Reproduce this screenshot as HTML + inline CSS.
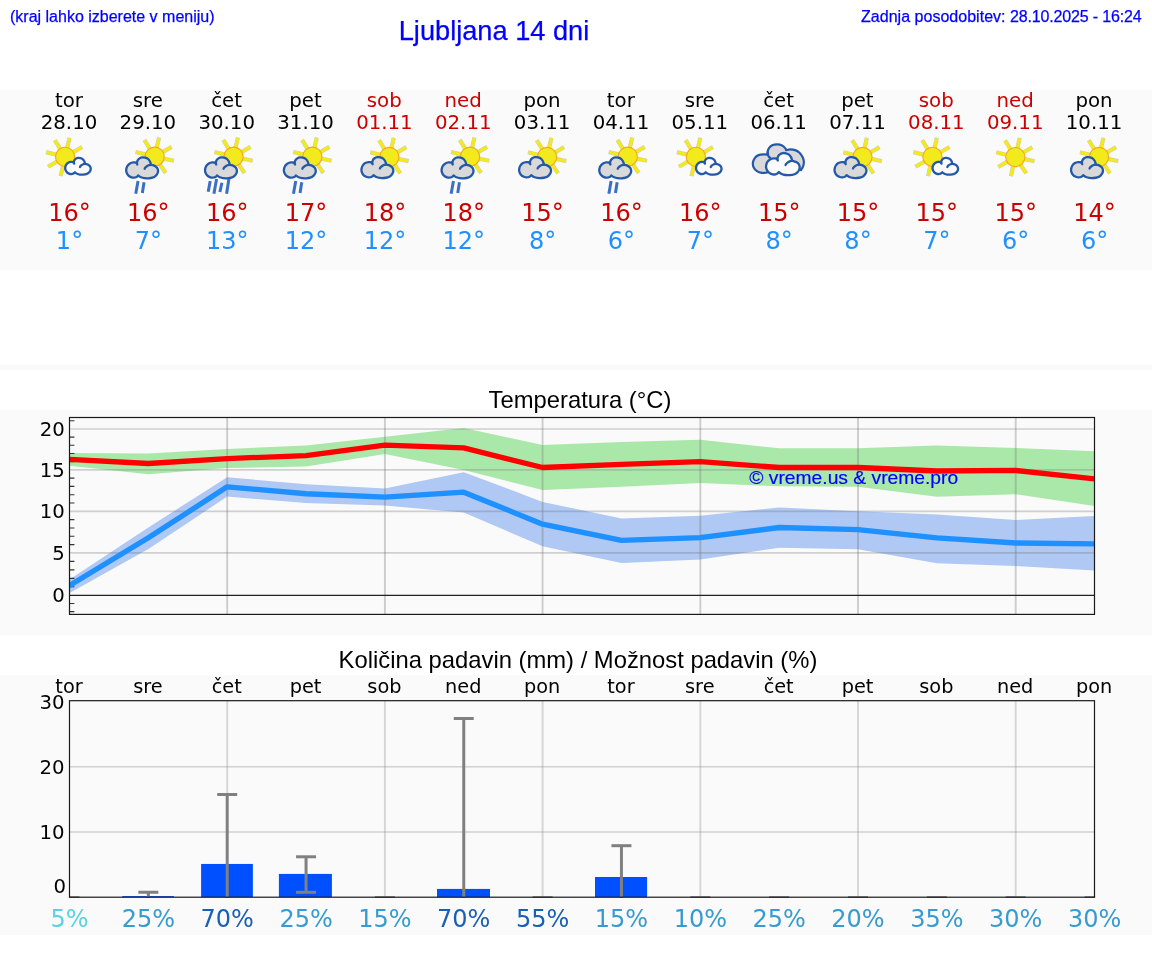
<!DOCTYPE html>
<html lang="sl"><head><meta charset="utf-8"><title>Ljubljana 14 dni</title>
<style>
html,body{margin:0;padding:0;background:#fff;}
body{width:1152px;height:975px;position:relative;overflow:hidden;font-family:"Liberation Sans",Arial,sans-serif;}
.panel{position:absolute;left:0;width:1152px;background:#fafafa;}
.hdr,#title{-webkit-text-stroke:0.25px #0000ff;}
.hdr{position:absolute;color:#0000ff;font-size:16px;line-height:18px;white-space:nowrap;}
#title{position:absolute;left:0;width:988px;text-align:center;top:14.6px;font-size:27.2px;line-height:32px;color:#0000ff;white-space:nowrap;}
.ct{position:absolute;left:0;width:1160px;text-align:center;font-size:23.8px;line-height:28px;color:#000;white-space:nowrap;}
svg{position:absolute;left:0;top:0;}
.hdr,#title,.ct,svg{will-change:transform;}
svg text{font-family:"DejaVu Sans","Liberation Sans",sans-serif;}
.d{font-size:19.75px;text-anchor:middle;}
.d2{font-size:19.3px;text-anchor:middle;}
.t{font-size:24px;text-anchor:middle;}
.p{font-size:24px;text-anchor:middle;}
.yl{font-size:19.7px;text-anchor:end;}
</style></head><body>
<div class="panel" style="top:90px;height:180px"></div>
<div class="panel" style="top:365px;height:5px"></div>
<div class="panel" style="top:410px;height:225px"></div>
<div class="panel" style="top:675px;height:260px"></div>
<div class="hdr" style="left:10px;top:8px">(kraj lahko izberete v meniju)</div>
<div id="title">Ljubljana 14 dni</div>
<div class="hdr" style="left:860.6px;top:8px"><span style="letter-spacing:0.025px">Zadnja posodobitev:</span><span style="letter-spacing:-0.145px"> 28.10.2025 - 16:24</span></div>
<div class="ct" style="top:386px">Temperatura (°C)</div>
<div class="ct" style="top:646px;width:1156px">Količina padavin (mm) / Možnost padavin (%)</div>

<svg width="1152" height="975" viewBox="0 0 1152 975">
<text class="d" x="68.9" y="107.4" fill="#000">tor</text>
<text class="d" x="69" y="128.8" fill="#000">28.10</text>
<g><line x1="67.03" y1="148.52" x2="69.53" y2="137.7" stroke="#9a9a78" stroke-opacity="0.45" stroke-width="4.2"/><line x1="72.55" y1="152.6" x2="82.16" y2="147.05" stroke="#9a9a78" stroke-opacity="0.45" stroke-width="4.2"/><line x1="73.51" y1="158.69" x2="84.37" y2="161" stroke="#9a9a78" stroke-opacity="0.45" stroke-width="4.2"/><line x1="69.91" y1="164.03" x2="76.12" y2="173.23" stroke="#9a9a78" stroke-opacity="0.45" stroke-width="4.2"/><line x1="63.17" y1="165.28" x2="60.67" y2="176.1" stroke="#9a9a78" stroke-opacity="0.45" stroke-width="4.2"/><line x1="57.65" y1="161.2" x2="48.04" y2="166.75" stroke="#9a9a78" stroke-opacity="0.45" stroke-width="4.2"/><line x1="56.76" y1="154.82" x2="45.99" y2="152.13" stroke="#9a9a78" stroke-opacity="0.45" stroke-width="4.2"/><line x1="60.61" y1="149.57" x2="54.81" y2="140.1" stroke="#9a9a78" stroke-opacity="0.45" stroke-width="4.2"/><line x1="67.03" y1="148.52" x2="69.44" y2="138.09" stroke="#f2ea1c" stroke-width="3.3"/><line x1="72.55" y1="152.6" x2="81.81" y2="147.25" stroke="#f2ea1c" stroke-width="3.3"/><line x1="73.51" y1="158.69" x2="83.98" y2="160.91" stroke="#f2ea1c" stroke-width="3.3"/><line x1="69.91" y1="164.03" x2="75.89" y2="172.9" stroke="#f2ea1c" stroke-width="3.3"/><line x1="63.17" y1="165.28" x2="60.76" y2="175.71" stroke="#f2ea1c" stroke-width="3.3"/><line x1="57.65" y1="161.2" x2="48.39" y2="166.55" stroke="#f2ea1c" stroke-width="3.3"/><line x1="56.76" y1="154.82" x2="46.37" y2="152.23" stroke="#f2ea1c" stroke-width="3.3"/><line x1="60.61" y1="149.57" x2="55.02" y2="140.44" stroke="#f2ea1c" stroke-width="3.3"/><circle cx="65.1" cy="156.9" r="9.6" fill="#f2ea1c" stroke="#f7a621" stroke-width="1.1"/></g><path d="M73.74 162.68C73.83 162.31 73.98 161.08 74.3 160.44C74.62 159.8 75.06 159.26 75.66 158.84C76.26 158.42 77.11 158.05 77.9 157.92C78.69 157.79 79.59 157.85 80.38 158.04C81.17 158.23 81.99 158.59 82.62 159.08C83.25 159.57 83.77 160.35 84.14 161C84.51 161.65 84.71 162.53 84.86 163C85.01 163.47 84.99 163.67 85.02 163.8L84.86 163.8C85.14 163.85 85.94 163.93 86.54 164.12C87.14 164.31 87.89 164.56 88.46 164.92C89.03 165.28 89.61 165.72 89.98 166.28C90.35 166.84 90.63 167.59 90.7 168.28C90.77 168.97 90.7 169.71 90.38 170.44C90.06 171.17 89.47 172.07 88.78 172.68C88.09 173.29 87.15 173.8 86.22 174.12C85.29 174.44 84.25 174.53 83.18 174.6C82.11 174.67 80.83 174.65 79.82 174.52C78.81 174.39 77.93 174.17 77.1 173.8C76.27 173.43 75.23 172.53 74.86 172.28L74.86 172.28C74.63 172.49 74.1 173.25 73.5 173.56C72.9 173.87 72.01 174.11 71.26 174.12C70.51 174.13 69.77 173.97 69.02 173.64C68.27 173.31 67.38 172.79 66.78 172.12C66.18 171.45 65.67 170.43 65.42 169.64C65.17 168.85 65.13 168.24 65.26 167.4C65.39 166.56 65.73 165.39 66.22 164.6C66.71 163.81 67.43 163.13 68.22 162.68C69.01 162.23 70.09 161.97 70.94 161.88C71.79 161.79 72.87 161.99 73.34 162.12C73.81 162.25 73.67 162.59 73.74 162.68Z" fill="#fbfbfb" stroke="#2458a8" stroke-width="2.3" stroke-linejoin="round"/><path d="M84.86 163.8C84.58 163.87 83.74 163.97 83.18 164.2C82.62 164.43 81.97 164.83 81.5 165.16C81.03 165.49 80.63 165.89 80.38 166.2C80.13 166.51 80.05 166.87 79.98 167M73.34 162.12C73.43 162.25 73.77 162.68 73.9 162.92C74.03 163.16 74.1 163.45 74.14 163.56" fill="none" stroke="#2458a8" stroke-width="2.3" stroke-linecap="round"/>
<text class="t" transform="translate(69.5 221) scale(1.0 1)" fill="#cc0000">16°</text>
<text class="t" transform="translate(69.5 249) scale(1.0 1)" fill="#1e90ff">1°</text>
<text class="d" x="147.75" y="107.4" fill="#000">sre</text>
<text class="d" x="147.85" y="128.8" fill="#000">29.10</text>
<g><line x1="156.58" y1="148.32" x2="159.08" y2="137.5" stroke="#9a9a78" stroke-opacity="0.45" stroke-width="4.2"/><line x1="162.1" y1="152.4" x2="171.71" y2="146.85" stroke="#9a9a78" stroke-opacity="0.45" stroke-width="4.2"/><line x1="163.06" y1="158.49" x2="173.92" y2="160.8" stroke="#9a9a78" stroke-opacity="0.45" stroke-width="4.2"/><line x1="159.46" y1="163.83" x2="165.67" y2="173.03" stroke="#9a9a78" stroke-opacity="0.45" stroke-width="4.2"/><line x1="152.72" y1="165.08" x2="150.22" y2="175.9" stroke="#9a9a78" stroke-opacity="0.45" stroke-width="4.2"/><line x1="147.2" y1="161" x2="137.59" y2="166.55" stroke="#9a9a78" stroke-opacity="0.45" stroke-width="4.2"/><line x1="146.31" y1="154.62" x2="135.54" y2="151.93" stroke="#9a9a78" stroke-opacity="0.45" stroke-width="4.2"/><line x1="150.16" y1="149.37" x2="144.36" y2="139.9" stroke="#9a9a78" stroke-opacity="0.45" stroke-width="4.2"/><line x1="156.58" y1="148.32" x2="158.99" y2="137.89" stroke="#f2ea1c" stroke-width="3.3"/><line x1="162.1" y1="152.4" x2="171.36" y2="147.05" stroke="#f2ea1c" stroke-width="3.3"/><line x1="163.06" y1="158.49" x2="173.53" y2="160.71" stroke="#f2ea1c" stroke-width="3.3"/><line x1="159.46" y1="163.83" x2="165.44" y2="172.7" stroke="#f2ea1c" stroke-width="3.3"/><line x1="152.72" y1="165.08" x2="150.31" y2="175.51" stroke="#f2ea1c" stroke-width="3.3"/><line x1="147.2" y1="161" x2="137.94" y2="166.35" stroke="#f2ea1c" stroke-width="3.3"/><line x1="146.31" y1="154.62" x2="135.92" y2="152.03" stroke="#f2ea1c" stroke-width="3.3"/><line x1="150.16" y1="149.37" x2="144.57" y2="140.24" stroke="#f2ea1c" stroke-width="3.3"/><circle cx="154.65" cy="156.7" r="9.6" fill="#f2ea1c" stroke="#f7a621" stroke-width="1.1"/></g><line x1="138.05" y1="181" x2="135.75" y2="193.7" stroke="#3b6fc4" stroke-width="3"/><line x1="144.05" y1="182.3" x2="142.35" y2="193" stroke="#3b6fc4" stroke-width="3"/><path d="M136.85 163.4C136.97 162.93 137.15 161.4 137.55 160.6C137.95 159.8 138.5 159.13 139.25 158.6C140 158.08 141.07 157.62 142.05 157.45C143.03 157.28 144.17 157.36 145.15 157.6C146.13 157.84 147.17 158.28 147.95 158.9C148.73 159.52 149.38 160.48 149.85 161.3C150.32 162.12 150.57 163.22 150.75 163.8C150.93 164.38 150.92 164.63 150.95 164.8L150.75 164.8C151.1 164.87 152.1 164.97 152.85 165.2C153.6 165.43 154.53 165.75 155.25 166.2C155.97 166.65 156.68 167.2 157.15 167.9C157.62 168.6 157.97 169.53 158.05 170.4C158.13 171.27 158.05 172.18 157.65 173.1C157.25 174.02 156.52 175.13 155.65 175.9C154.78 176.67 153.62 177.3 152.45 177.7C151.28 178.1 149.98 178.22 148.65 178.3C147.32 178.38 145.72 178.37 144.45 178.2C143.18 178.03 142.08 177.77 141.05 177.3C140.02 176.83 138.72 175.72 138.25 175.4L138.25 175.4C137.97 175.67 137.3 176.62 136.55 177C135.8 177.38 134.68 177.68 133.75 177.7C132.82 177.72 131.88 177.52 130.95 177.1C130.02 176.68 128.9 176.03 128.15 175.2C127.4 174.37 126.77 173.08 126.45 172.1C126.13 171.12 126.08 170.35 126.25 169.3C126.42 168.25 126.83 166.78 127.45 165.8C128.07 164.82 128.97 163.97 129.95 163.4C130.93 162.83 132.28 162.52 133.35 162.4C134.42 162.28 135.77 162.53 136.35 162.7C136.93 162.87 136.77 163.28 136.85 163.4Z" fill="#d9d9d9" stroke="#2458a8" stroke-width="2.3" stroke-linejoin="round"/><path d="M150.75 164.8C150.4 164.88 149.35 165.02 148.65 165.3C147.95 165.58 147.13 166.08 146.55 166.5C145.97 166.92 145.47 167.42 145.15 167.8C144.83 168.18 144.73 168.63 144.65 168.8M136.35 162.7C136.47 162.87 136.88 163.4 137.05 163.7C137.22 164 137.3 164.37 137.35 164.5" fill="none" stroke="#2458a8" stroke-width="2.3" stroke-linecap="round"/>
<text class="t" transform="translate(148.35 221) scale(1.0 1)" fill="#cc0000">16°</text>
<text class="t" transform="translate(148.35 249) scale(1.0 1)" fill="#1e90ff">7°</text>
<text class="d" x="226.6" y="107.4" fill="#000">čet</text>
<text class="d" x="226.7" y="128.8" fill="#000">30.10</text>
<g><line x1="235.43" y1="148.32" x2="237.93" y2="137.5" stroke="#9a9a78" stroke-opacity="0.45" stroke-width="4.2"/><line x1="240.95" y1="152.4" x2="250.56" y2="146.85" stroke="#9a9a78" stroke-opacity="0.45" stroke-width="4.2"/><line x1="241.91" y1="158.49" x2="252.77" y2="160.8" stroke="#9a9a78" stroke-opacity="0.45" stroke-width="4.2"/><line x1="238.31" y1="163.83" x2="244.52" y2="173.03" stroke="#9a9a78" stroke-opacity="0.45" stroke-width="4.2"/><line x1="231.57" y1="165.08" x2="229.07" y2="175.9" stroke="#9a9a78" stroke-opacity="0.45" stroke-width="4.2"/><line x1="226.05" y1="161" x2="216.44" y2="166.55" stroke="#9a9a78" stroke-opacity="0.45" stroke-width="4.2"/><line x1="225.16" y1="154.62" x2="214.39" y2="151.93" stroke="#9a9a78" stroke-opacity="0.45" stroke-width="4.2"/><line x1="229.01" y1="149.37" x2="223.21" y2="139.9" stroke="#9a9a78" stroke-opacity="0.45" stroke-width="4.2"/><line x1="235.43" y1="148.32" x2="237.84" y2="137.89" stroke="#f2ea1c" stroke-width="3.3"/><line x1="240.95" y1="152.4" x2="250.21" y2="147.05" stroke="#f2ea1c" stroke-width="3.3"/><line x1="241.91" y1="158.49" x2="252.38" y2="160.71" stroke="#f2ea1c" stroke-width="3.3"/><line x1="238.31" y1="163.83" x2="244.29" y2="172.7" stroke="#f2ea1c" stroke-width="3.3"/><line x1="231.57" y1="165.08" x2="229.16" y2="175.51" stroke="#f2ea1c" stroke-width="3.3"/><line x1="226.05" y1="161" x2="216.79" y2="166.35" stroke="#f2ea1c" stroke-width="3.3"/><line x1="225.16" y1="154.62" x2="214.77" y2="152.03" stroke="#f2ea1c" stroke-width="3.3"/><line x1="229.01" y1="149.37" x2="223.42" y2="140.24" stroke="#f2ea1c" stroke-width="3.3"/><circle cx="233.5" cy="156.7" r="9.6" fill="#f2ea1c" stroke="#f7a621" stroke-width="1.1"/></g><line x1="210.2" y1="181" x2="208.2" y2="191.7" stroke="#3b6fc4" stroke-width="3"/><line x1="216.6" y1="179" x2="213.9" y2="193.7" stroke="#3b6fc4" stroke-width="3"/><line x1="221.9" y1="182.7" x2="219.9" y2="192" stroke="#3b6fc4" stroke-width="3"/><line x1="228.9" y1="179" x2="226.6" y2="193.7" stroke="#3b6fc4" stroke-width="3"/><path d="M215.7 163.4C215.82 162.93 216 161.4 216.4 160.6C216.8 159.8 217.35 159.13 218.1 158.6C218.85 158.08 219.92 157.62 220.9 157.45C221.88 157.28 223.02 157.36 224 157.6C224.98 157.84 226.02 158.28 226.8 158.9C227.58 159.52 228.23 160.48 228.7 161.3C229.17 162.12 229.42 163.22 229.6 163.8C229.78 164.38 229.77 164.63 229.8 164.8L229.6 164.8C229.95 164.87 230.95 164.97 231.7 165.2C232.45 165.43 233.38 165.75 234.1 166.2C234.82 166.65 235.53 167.2 236 167.9C236.47 168.6 236.82 169.53 236.9 170.4C236.98 171.27 236.9 172.18 236.5 173.1C236.1 174.02 235.37 175.13 234.5 175.9C233.63 176.67 232.47 177.3 231.3 177.7C230.13 178.1 228.83 178.22 227.5 178.3C226.17 178.38 224.57 178.37 223.3 178.2C222.03 178.03 220.93 177.77 219.9 177.3C218.87 176.83 217.57 175.72 217.1 175.4L217.1 175.4C216.82 175.67 216.15 176.62 215.4 177C214.65 177.38 213.53 177.68 212.6 177.7C211.67 177.72 210.73 177.52 209.8 177.1C208.87 176.68 207.75 176.03 207 175.2C206.25 174.37 205.62 173.08 205.3 172.1C204.98 171.12 204.93 170.35 205.1 169.3C205.27 168.25 205.68 166.78 206.3 165.8C206.92 164.82 207.82 163.97 208.8 163.4C209.78 162.83 211.13 162.52 212.2 162.4C213.27 162.28 214.62 162.53 215.2 162.7C215.78 162.87 215.62 163.28 215.7 163.4Z" fill="#d9d9d9" stroke="#2458a8" stroke-width="2.3" stroke-linejoin="round"/><path d="M229.6 164.8C229.25 164.88 228.2 165.02 227.5 165.3C226.8 165.58 225.98 166.08 225.4 166.5C224.82 166.92 224.32 167.42 224 167.8C223.68 168.18 223.58 168.63 223.5 168.8M215.2 162.7C215.32 162.87 215.73 163.4 215.9 163.7C216.07 164 216.15 164.37 216.2 164.5" fill="none" stroke="#2458a8" stroke-width="2.3" stroke-linecap="round"/>
<text class="t" transform="translate(227.2 221) scale(1.0 1)" fill="#cc0000">16°</text>
<text class="t" transform="translate(227.2 249) scale(1.0 1)" fill="#1e90ff">13°</text>
<text class="d" x="305.45" y="107.4" fill="#000">pet</text>
<text class="d" x="305.55" y="128.8" fill="#000">31.10</text>
<g><line x1="314.28" y1="148.32" x2="316.78" y2="137.5" stroke="#9a9a78" stroke-opacity="0.45" stroke-width="4.2"/><line x1="319.8" y1="152.4" x2="329.41" y2="146.85" stroke="#9a9a78" stroke-opacity="0.45" stroke-width="4.2"/><line x1="320.76" y1="158.49" x2="331.62" y2="160.8" stroke="#9a9a78" stroke-opacity="0.45" stroke-width="4.2"/><line x1="317.16" y1="163.83" x2="323.37" y2="173.03" stroke="#9a9a78" stroke-opacity="0.45" stroke-width="4.2"/><line x1="310.42" y1="165.08" x2="307.92" y2="175.9" stroke="#9a9a78" stroke-opacity="0.45" stroke-width="4.2"/><line x1="304.9" y1="161" x2="295.29" y2="166.55" stroke="#9a9a78" stroke-opacity="0.45" stroke-width="4.2"/><line x1="304.01" y1="154.62" x2="293.24" y2="151.93" stroke="#9a9a78" stroke-opacity="0.45" stroke-width="4.2"/><line x1="307.86" y1="149.37" x2="302.06" y2="139.9" stroke="#9a9a78" stroke-opacity="0.45" stroke-width="4.2"/><line x1="314.28" y1="148.32" x2="316.69" y2="137.89" stroke="#f2ea1c" stroke-width="3.3"/><line x1="319.8" y1="152.4" x2="329.06" y2="147.05" stroke="#f2ea1c" stroke-width="3.3"/><line x1="320.76" y1="158.49" x2="331.23" y2="160.71" stroke="#f2ea1c" stroke-width="3.3"/><line x1="317.16" y1="163.83" x2="323.14" y2="172.7" stroke="#f2ea1c" stroke-width="3.3"/><line x1="310.42" y1="165.08" x2="308.01" y2="175.51" stroke="#f2ea1c" stroke-width="3.3"/><line x1="304.9" y1="161" x2="295.64" y2="166.35" stroke="#f2ea1c" stroke-width="3.3"/><line x1="304.01" y1="154.62" x2="293.62" y2="152.03" stroke="#f2ea1c" stroke-width="3.3"/><line x1="307.86" y1="149.37" x2="302.27" y2="140.24" stroke="#f2ea1c" stroke-width="3.3"/><circle cx="312.35" cy="156.7" r="9.6" fill="#f2ea1c" stroke="#f7a621" stroke-width="1.1"/></g><line x1="295.75" y1="181" x2="293.45" y2="193.7" stroke="#3b6fc4" stroke-width="3"/><line x1="301.75" y1="182.3" x2="300.05" y2="193" stroke="#3b6fc4" stroke-width="3"/><path d="M294.55 163.4C294.67 162.93 294.85 161.4 295.25 160.6C295.65 159.8 296.2 159.13 296.95 158.6C297.7 158.08 298.77 157.62 299.75 157.45C300.73 157.28 301.87 157.36 302.85 157.6C303.83 157.84 304.87 158.28 305.65 158.9C306.43 159.52 307.08 160.48 307.55 161.3C308.02 162.12 308.27 163.22 308.45 163.8C308.63 164.38 308.62 164.63 308.65 164.8L308.45 164.8C308.8 164.87 309.8 164.97 310.55 165.2C311.3 165.43 312.23 165.75 312.95 166.2C313.67 166.65 314.38 167.2 314.85 167.9C315.32 168.6 315.67 169.53 315.75 170.4C315.83 171.27 315.75 172.18 315.35 173.1C314.95 174.02 314.22 175.13 313.35 175.9C312.48 176.67 311.32 177.3 310.15 177.7C308.98 178.1 307.68 178.22 306.35 178.3C305.02 178.38 303.42 178.37 302.15 178.2C300.88 178.03 299.78 177.77 298.75 177.3C297.72 176.83 296.42 175.72 295.95 175.4L295.95 175.4C295.67 175.67 295 176.62 294.25 177C293.5 177.38 292.38 177.68 291.45 177.7C290.52 177.72 289.58 177.52 288.65 177.1C287.72 176.68 286.6 176.03 285.85 175.2C285.1 174.37 284.47 173.08 284.15 172.1C283.83 171.12 283.78 170.35 283.95 169.3C284.12 168.25 284.53 166.78 285.15 165.8C285.77 164.82 286.67 163.97 287.65 163.4C288.63 162.83 289.98 162.52 291.05 162.4C292.12 162.28 293.47 162.53 294.05 162.7C294.63 162.87 294.47 163.28 294.55 163.4Z" fill="#d9d9d9" stroke="#2458a8" stroke-width="2.3" stroke-linejoin="round"/><path d="M308.45 164.8C308.1 164.88 307.05 165.02 306.35 165.3C305.65 165.58 304.83 166.08 304.25 166.5C303.67 166.92 303.17 167.42 302.85 167.8C302.53 168.18 302.43 168.63 302.35 168.8M294.05 162.7C294.17 162.87 294.58 163.4 294.75 163.7C294.92 164 295 164.37 295.05 164.5" fill="none" stroke="#2458a8" stroke-width="2.3" stroke-linecap="round"/>
<text class="t" transform="translate(306.05 221) scale(1.0 1)" fill="#cc0000">17°</text>
<text class="t" transform="translate(306.05 249) scale(1.0 1)" fill="#1e90ff">12°</text>
<text class="d" x="384.3" y="107.4" fill="#cc0000">sob</text>
<text class="d" x="384.4" y="128.8" fill="#cc0000">01.11</text>
<g><line x1="391.28" y1="148.62" x2="393.78" y2="137.8" stroke="#9a9a78" stroke-opacity="0.45" stroke-width="4.2"/><line x1="396.8" y1="152.7" x2="406.41" y2="147.15" stroke="#9a9a78" stroke-opacity="0.45" stroke-width="4.2"/><line x1="397.76" y1="158.79" x2="408.62" y2="161.1" stroke="#9a9a78" stroke-opacity="0.45" stroke-width="4.2"/><line x1="394.16" y1="164.13" x2="400.37" y2="173.33" stroke="#9a9a78" stroke-opacity="0.45" stroke-width="4.2"/><line x1="387.42" y1="165.38" x2="384.92" y2="176.2" stroke="#9a9a78" stroke-opacity="0.45" stroke-width="4.2"/><line x1="381.9" y1="161.3" x2="372.29" y2="166.85" stroke="#9a9a78" stroke-opacity="0.45" stroke-width="4.2"/><line x1="381.01" y1="154.92" x2="370.24" y2="152.23" stroke="#9a9a78" stroke-opacity="0.45" stroke-width="4.2"/><line x1="384.86" y1="149.67" x2="379.06" y2="140.2" stroke="#9a9a78" stroke-opacity="0.45" stroke-width="4.2"/><line x1="391.28" y1="148.62" x2="393.69" y2="138.19" stroke="#f2ea1c" stroke-width="3.3"/><line x1="396.8" y1="152.7" x2="406.06" y2="147.35" stroke="#f2ea1c" stroke-width="3.3"/><line x1="397.76" y1="158.79" x2="408.23" y2="161.01" stroke="#f2ea1c" stroke-width="3.3"/><line x1="394.16" y1="164.13" x2="400.14" y2="173" stroke="#f2ea1c" stroke-width="3.3"/><line x1="387.42" y1="165.38" x2="385.01" y2="175.81" stroke="#f2ea1c" stroke-width="3.3"/><line x1="381.9" y1="161.3" x2="372.64" y2="166.65" stroke="#f2ea1c" stroke-width="3.3"/><line x1="381.01" y1="154.92" x2="370.62" y2="152.33" stroke="#f2ea1c" stroke-width="3.3"/><line x1="384.86" y1="149.67" x2="379.27" y2="140.54" stroke="#f2ea1c" stroke-width="3.3"/><circle cx="389.35" cy="157" r="9.6" fill="#f2ea1c" stroke="#f7a621" stroke-width="1.1"/></g><path d="M372.1 163.1C372.22 162.63 372.4 161.1 372.8 160.3C373.2 159.5 373.75 158.83 374.5 158.3C375.25 157.78 376.32 157.32 377.3 157.15C378.28 156.98 379.42 157.06 380.4 157.3C381.38 157.54 382.42 157.98 383.2 158.6C383.98 159.22 384.63 160.18 385.1 161C385.57 161.82 385.82 162.92 386 163.5C386.18 164.08 386.17 164.33 386.2 164.5L386 164.5C386.35 164.57 387.35 164.67 388.1 164.9C388.85 165.13 389.78 165.45 390.5 165.9C391.22 166.35 391.93 166.9 392.4 167.6C392.87 168.3 393.22 169.23 393.3 170.1C393.38 170.97 393.3 171.88 392.9 172.8C392.5 173.72 391.77 174.83 390.9 175.6C390.03 176.37 388.87 177 387.7 177.4C386.53 177.8 385.23 177.92 383.9 178C382.57 178.08 380.97 178.07 379.7 177.9C378.43 177.73 377.33 177.47 376.3 177C375.27 176.53 373.97 175.42 373.5 175.1L373.5 175.1C373.22 175.37 372.55 176.32 371.8 176.7C371.05 177.08 369.93 177.38 369 177.4C368.07 177.42 367.13 177.22 366.2 176.8C365.27 176.38 364.15 175.73 363.4 174.9C362.65 174.07 362.02 172.78 361.7 171.8C361.38 170.82 361.33 170.05 361.5 169C361.67 167.95 362.08 166.48 362.7 165.5C363.32 164.52 364.22 163.67 365.2 163.1C366.18 162.53 367.53 162.22 368.6 162.1C369.67 161.98 371.02 162.23 371.6 162.4C372.18 162.57 372.02 162.98 372.1 163.1Z" fill="#d9d9d9" stroke="#2458a8" stroke-width="2.3" stroke-linejoin="round"/><path d="M386 164.5C385.65 164.58 384.6 164.72 383.9 165C383.2 165.28 382.38 165.78 381.8 166.2C381.22 166.62 380.72 167.12 380.4 167.5C380.08 167.88 379.98 168.33 379.9 168.5M371.6 162.4C371.72 162.57 372.13 163.1 372.3 163.4C372.47 163.7 372.55 164.07 372.6 164.2" fill="none" stroke="#2458a8" stroke-width="2.3" stroke-linecap="round"/>
<text class="t" transform="translate(384.9 221) scale(1.0 1)" fill="#cc0000">18°</text>
<text class="t" transform="translate(384.9 249) scale(1.0 1)" fill="#1e90ff">12°</text>
<text class="d" x="463.15" y="107.4" fill="#cc0000">ned</text>
<text class="d" x="463.25" y="128.8" fill="#cc0000">02.11</text>
<g><line x1="471.98" y1="148.32" x2="474.48" y2="137.5" stroke="#9a9a78" stroke-opacity="0.45" stroke-width="4.2"/><line x1="477.5" y1="152.4" x2="487.11" y2="146.85" stroke="#9a9a78" stroke-opacity="0.45" stroke-width="4.2"/><line x1="478.46" y1="158.49" x2="489.32" y2="160.8" stroke="#9a9a78" stroke-opacity="0.45" stroke-width="4.2"/><line x1="474.86" y1="163.83" x2="481.07" y2="173.03" stroke="#9a9a78" stroke-opacity="0.45" stroke-width="4.2"/><line x1="468.12" y1="165.08" x2="465.62" y2="175.9" stroke="#9a9a78" stroke-opacity="0.45" stroke-width="4.2"/><line x1="462.6" y1="161" x2="452.99" y2="166.55" stroke="#9a9a78" stroke-opacity="0.45" stroke-width="4.2"/><line x1="461.71" y1="154.62" x2="450.94" y2="151.93" stroke="#9a9a78" stroke-opacity="0.45" stroke-width="4.2"/><line x1="465.56" y1="149.37" x2="459.76" y2="139.9" stroke="#9a9a78" stroke-opacity="0.45" stroke-width="4.2"/><line x1="471.98" y1="148.32" x2="474.39" y2="137.89" stroke="#f2ea1c" stroke-width="3.3"/><line x1="477.5" y1="152.4" x2="486.76" y2="147.05" stroke="#f2ea1c" stroke-width="3.3"/><line x1="478.46" y1="158.49" x2="488.93" y2="160.71" stroke="#f2ea1c" stroke-width="3.3"/><line x1="474.86" y1="163.83" x2="480.84" y2="172.7" stroke="#f2ea1c" stroke-width="3.3"/><line x1="468.12" y1="165.08" x2="465.71" y2="175.51" stroke="#f2ea1c" stroke-width="3.3"/><line x1="462.6" y1="161" x2="453.34" y2="166.35" stroke="#f2ea1c" stroke-width="3.3"/><line x1="461.71" y1="154.62" x2="451.32" y2="152.03" stroke="#f2ea1c" stroke-width="3.3"/><line x1="465.56" y1="149.37" x2="459.97" y2="140.24" stroke="#f2ea1c" stroke-width="3.3"/><circle cx="470.05" cy="156.7" r="9.6" fill="#f2ea1c" stroke="#f7a621" stroke-width="1.1"/></g><line x1="453.45" y1="181" x2="451.15" y2="193.7" stroke="#3b6fc4" stroke-width="3"/><line x1="459.45" y1="182.3" x2="457.75" y2="193" stroke="#3b6fc4" stroke-width="3"/><path d="M452.25 163.4C452.37 162.93 452.55 161.4 452.95 160.6C453.35 159.8 453.9 159.13 454.65 158.6C455.4 158.08 456.47 157.62 457.45 157.45C458.43 157.28 459.57 157.36 460.55 157.6C461.53 157.84 462.57 158.28 463.35 158.9C464.13 159.52 464.78 160.48 465.25 161.3C465.72 162.12 465.97 163.22 466.15 163.8C466.33 164.38 466.32 164.63 466.35 164.8L466.15 164.8C466.5 164.87 467.5 164.97 468.25 165.2C469 165.43 469.93 165.75 470.65 166.2C471.37 166.65 472.08 167.2 472.55 167.9C473.02 168.6 473.37 169.53 473.45 170.4C473.53 171.27 473.45 172.18 473.05 173.1C472.65 174.02 471.92 175.13 471.05 175.9C470.18 176.67 469.02 177.3 467.85 177.7C466.68 178.1 465.38 178.22 464.05 178.3C462.72 178.38 461.12 178.37 459.85 178.2C458.58 178.03 457.48 177.77 456.45 177.3C455.42 176.83 454.12 175.72 453.65 175.4L453.65 175.4C453.37 175.67 452.7 176.62 451.95 177C451.2 177.38 450.08 177.68 449.15 177.7C448.22 177.72 447.28 177.52 446.35 177.1C445.42 176.68 444.3 176.03 443.55 175.2C442.8 174.37 442.17 173.08 441.85 172.1C441.53 171.12 441.48 170.35 441.65 169.3C441.82 168.25 442.23 166.78 442.85 165.8C443.47 164.82 444.37 163.97 445.35 163.4C446.33 162.83 447.68 162.52 448.75 162.4C449.82 162.28 451.17 162.53 451.75 162.7C452.33 162.87 452.17 163.28 452.25 163.4Z" fill="#d9d9d9" stroke="#2458a8" stroke-width="2.3" stroke-linejoin="round"/><path d="M466.15 164.8C465.8 164.88 464.75 165.02 464.05 165.3C463.35 165.58 462.53 166.08 461.95 166.5C461.37 166.92 460.87 167.42 460.55 167.8C460.23 168.18 460.13 168.63 460.05 168.8M451.75 162.7C451.87 162.87 452.28 163.4 452.45 163.7C452.62 164 452.7 164.37 452.75 164.5" fill="none" stroke="#2458a8" stroke-width="2.3" stroke-linecap="round"/>
<text class="t" transform="translate(463.75 221) scale(1.0 1)" fill="#cc0000">18°</text>
<text class="t" transform="translate(463.75 249) scale(1.0 1)" fill="#1e90ff">12°</text>
<text class="d" x="542" y="107.4" fill="#000">pon</text>
<text class="d" x="542.1" y="128.8" fill="#000">03.11</text>
<g><line x1="548.98" y1="148.62" x2="551.48" y2="137.8" stroke="#9a9a78" stroke-opacity="0.45" stroke-width="4.2"/><line x1="554.5" y1="152.7" x2="564.11" y2="147.15" stroke="#9a9a78" stroke-opacity="0.45" stroke-width="4.2"/><line x1="555.46" y1="158.79" x2="566.32" y2="161.1" stroke="#9a9a78" stroke-opacity="0.45" stroke-width="4.2"/><line x1="551.86" y1="164.13" x2="558.07" y2="173.33" stroke="#9a9a78" stroke-opacity="0.45" stroke-width="4.2"/><line x1="545.12" y1="165.38" x2="542.62" y2="176.2" stroke="#9a9a78" stroke-opacity="0.45" stroke-width="4.2"/><line x1="539.6" y1="161.3" x2="529.99" y2="166.85" stroke="#9a9a78" stroke-opacity="0.45" stroke-width="4.2"/><line x1="538.71" y1="154.92" x2="527.94" y2="152.23" stroke="#9a9a78" stroke-opacity="0.45" stroke-width="4.2"/><line x1="542.56" y1="149.67" x2="536.76" y2="140.2" stroke="#9a9a78" stroke-opacity="0.45" stroke-width="4.2"/><line x1="548.98" y1="148.62" x2="551.39" y2="138.19" stroke="#f2ea1c" stroke-width="3.3"/><line x1="554.5" y1="152.7" x2="563.76" y2="147.35" stroke="#f2ea1c" stroke-width="3.3"/><line x1="555.46" y1="158.79" x2="565.93" y2="161.01" stroke="#f2ea1c" stroke-width="3.3"/><line x1="551.86" y1="164.13" x2="557.84" y2="173" stroke="#f2ea1c" stroke-width="3.3"/><line x1="545.12" y1="165.38" x2="542.71" y2="175.81" stroke="#f2ea1c" stroke-width="3.3"/><line x1="539.6" y1="161.3" x2="530.34" y2="166.65" stroke="#f2ea1c" stroke-width="3.3"/><line x1="538.71" y1="154.92" x2="528.32" y2="152.33" stroke="#f2ea1c" stroke-width="3.3"/><line x1="542.56" y1="149.67" x2="536.97" y2="140.54" stroke="#f2ea1c" stroke-width="3.3"/><circle cx="547.05" cy="157" r="9.6" fill="#f2ea1c" stroke="#f7a621" stroke-width="1.1"/></g><path d="M529.8 163.1C529.92 162.63 530.1 161.1 530.5 160.3C530.9 159.5 531.45 158.83 532.2 158.3C532.95 157.78 534.02 157.32 535 157.15C535.98 156.98 537.12 157.06 538.1 157.3C539.08 157.54 540.12 157.98 540.9 158.6C541.68 159.22 542.33 160.18 542.8 161C543.27 161.82 543.52 162.92 543.7 163.5C543.88 164.08 543.87 164.33 543.9 164.5L543.7 164.5C544.05 164.57 545.05 164.67 545.8 164.9C546.55 165.13 547.48 165.45 548.2 165.9C548.92 166.35 549.63 166.9 550.1 167.6C550.57 168.3 550.92 169.23 551 170.1C551.08 170.97 551 171.88 550.6 172.8C550.2 173.72 549.47 174.83 548.6 175.6C547.73 176.37 546.57 177 545.4 177.4C544.23 177.8 542.93 177.92 541.6 178C540.27 178.08 538.67 178.07 537.4 177.9C536.13 177.73 535.03 177.47 534 177C532.97 176.53 531.67 175.42 531.2 175.1L531.2 175.1C530.92 175.37 530.25 176.32 529.5 176.7C528.75 177.08 527.63 177.38 526.7 177.4C525.77 177.42 524.83 177.22 523.9 176.8C522.97 176.38 521.85 175.73 521.1 174.9C520.35 174.07 519.72 172.78 519.4 171.8C519.08 170.82 519.03 170.05 519.2 169C519.37 167.95 519.78 166.48 520.4 165.5C521.02 164.52 521.92 163.67 522.9 163.1C523.88 162.53 525.23 162.22 526.3 162.1C527.37 161.98 528.72 162.23 529.3 162.4C529.88 162.57 529.72 162.98 529.8 163.1Z" fill="#d9d9d9" stroke="#2458a8" stroke-width="2.3" stroke-linejoin="round"/><path d="M543.7 164.5C543.35 164.58 542.3 164.72 541.6 165C540.9 165.28 540.08 165.78 539.5 166.2C538.92 166.62 538.42 167.12 538.1 167.5C537.78 167.88 537.68 168.33 537.6 168.5M529.3 162.4C529.42 162.57 529.83 163.1 530 163.4C530.17 163.7 530.25 164.07 530.3 164.2" fill="none" stroke="#2458a8" stroke-width="2.3" stroke-linecap="round"/>
<text class="t" transform="translate(542.6 221) scale(1.0 1)" fill="#cc0000">15°</text>
<text class="t" transform="translate(542.6 249) scale(1.0 1)" fill="#1e90ff">8°</text>
<text class="d" x="620.85" y="107.4" fill="#000">tor</text>
<text class="d" x="620.95" y="128.8" fill="#000">04.11</text>
<g><line x1="629.68" y1="148.32" x2="632.18" y2="137.5" stroke="#9a9a78" stroke-opacity="0.45" stroke-width="4.2"/><line x1="635.2" y1="152.4" x2="644.81" y2="146.85" stroke="#9a9a78" stroke-opacity="0.45" stroke-width="4.2"/><line x1="636.16" y1="158.49" x2="647.02" y2="160.8" stroke="#9a9a78" stroke-opacity="0.45" stroke-width="4.2"/><line x1="632.56" y1="163.83" x2="638.77" y2="173.03" stroke="#9a9a78" stroke-opacity="0.45" stroke-width="4.2"/><line x1="625.82" y1="165.08" x2="623.32" y2="175.9" stroke="#9a9a78" stroke-opacity="0.45" stroke-width="4.2"/><line x1="620.3" y1="161" x2="610.69" y2="166.55" stroke="#9a9a78" stroke-opacity="0.45" stroke-width="4.2"/><line x1="619.41" y1="154.62" x2="608.64" y2="151.93" stroke="#9a9a78" stroke-opacity="0.45" stroke-width="4.2"/><line x1="623.26" y1="149.37" x2="617.46" y2="139.9" stroke="#9a9a78" stroke-opacity="0.45" stroke-width="4.2"/><line x1="629.68" y1="148.32" x2="632.09" y2="137.89" stroke="#f2ea1c" stroke-width="3.3"/><line x1="635.2" y1="152.4" x2="644.46" y2="147.05" stroke="#f2ea1c" stroke-width="3.3"/><line x1="636.16" y1="158.49" x2="646.63" y2="160.71" stroke="#f2ea1c" stroke-width="3.3"/><line x1="632.56" y1="163.83" x2="638.54" y2="172.7" stroke="#f2ea1c" stroke-width="3.3"/><line x1="625.82" y1="165.08" x2="623.41" y2="175.51" stroke="#f2ea1c" stroke-width="3.3"/><line x1="620.3" y1="161" x2="611.04" y2="166.35" stroke="#f2ea1c" stroke-width="3.3"/><line x1="619.41" y1="154.62" x2="609.02" y2="152.03" stroke="#f2ea1c" stroke-width="3.3"/><line x1="623.26" y1="149.37" x2="617.67" y2="140.24" stroke="#f2ea1c" stroke-width="3.3"/><circle cx="627.75" cy="156.7" r="9.6" fill="#f2ea1c" stroke="#f7a621" stroke-width="1.1"/></g><line x1="611.15" y1="181" x2="608.85" y2="193.7" stroke="#3b6fc4" stroke-width="3"/><line x1="617.15" y1="182.3" x2="615.45" y2="193" stroke="#3b6fc4" stroke-width="3"/><path d="M609.95 163.4C610.07 162.93 610.25 161.4 610.65 160.6C611.05 159.8 611.6 159.13 612.35 158.6C613.1 158.08 614.17 157.62 615.15 157.45C616.13 157.28 617.27 157.36 618.25 157.6C619.23 157.84 620.27 158.28 621.05 158.9C621.83 159.52 622.48 160.48 622.95 161.3C623.42 162.12 623.67 163.22 623.85 163.8C624.03 164.38 624.02 164.63 624.05 164.8L623.85 164.8C624.2 164.87 625.2 164.97 625.95 165.2C626.7 165.43 627.63 165.75 628.35 166.2C629.07 166.65 629.78 167.2 630.25 167.9C630.72 168.6 631.07 169.53 631.15 170.4C631.23 171.27 631.15 172.18 630.75 173.1C630.35 174.02 629.62 175.13 628.75 175.9C627.88 176.67 626.72 177.3 625.55 177.7C624.38 178.1 623.08 178.22 621.75 178.3C620.42 178.38 618.82 178.37 617.55 178.2C616.28 178.03 615.18 177.77 614.15 177.3C613.12 176.83 611.82 175.72 611.35 175.4L611.35 175.4C611.07 175.67 610.4 176.62 609.65 177C608.9 177.38 607.78 177.68 606.85 177.7C605.92 177.72 604.98 177.52 604.05 177.1C603.12 176.68 602 176.03 601.25 175.2C600.5 174.37 599.87 173.08 599.55 172.1C599.23 171.12 599.18 170.35 599.35 169.3C599.52 168.25 599.93 166.78 600.55 165.8C601.17 164.82 602.07 163.97 603.05 163.4C604.03 162.83 605.38 162.52 606.45 162.4C607.52 162.28 608.87 162.53 609.45 162.7C610.03 162.87 609.87 163.28 609.95 163.4Z" fill="#d9d9d9" stroke="#2458a8" stroke-width="2.3" stroke-linejoin="round"/><path d="M623.85 164.8C623.5 164.88 622.45 165.02 621.75 165.3C621.05 165.58 620.23 166.08 619.65 166.5C619.07 166.92 618.57 167.42 618.25 167.8C617.93 168.18 617.83 168.63 617.75 168.8M609.45 162.7C609.57 162.87 609.98 163.4 610.15 163.7C610.32 164 610.4 164.37 610.45 164.5" fill="none" stroke="#2458a8" stroke-width="2.3" stroke-linecap="round"/>
<text class="t" transform="translate(621.45 221) scale(1.0 1)" fill="#cc0000">16°</text>
<text class="t" transform="translate(621.45 249) scale(1.0 1)" fill="#1e90ff">6°</text>
<text class="d" x="699.7" y="107.4" fill="#000">sre</text>
<text class="d" x="699.8" y="128.8" fill="#000">05.11</text>
<g><line x1="697.83" y1="148.52" x2="700.33" y2="137.7" stroke="#9a9a78" stroke-opacity="0.45" stroke-width="4.2"/><line x1="703.35" y1="152.6" x2="712.96" y2="147.05" stroke="#9a9a78" stroke-opacity="0.45" stroke-width="4.2"/><line x1="704.31" y1="158.69" x2="715.17" y2="161" stroke="#9a9a78" stroke-opacity="0.45" stroke-width="4.2"/><line x1="700.71" y1="164.03" x2="706.92" y2="173.23" stroke="#9a9a78" stroke-opacity="0.45" stroke-width="4.2"/><line x1="693.97" y1="165.28" x2="691.47" y2="176.1" stroke="#9a9a78" stroke-opacity="0.45" stroke-width="4.2"/><line x1="688.45" y1="161.2" x2="678.84" y2="166.75" stroke="#9a9a78" stroke-opacity="0.45" stroke-width="4.2"/><line x1="687.56" y1="154.82" x2="676.79" y2="152.13" stroke="#9a9a78" stroke-opacity="0.45" stroke-width="4.2"/><line x1="691.41" y1="149.57" x2="685.61" y2="140.1" stroke="#9a9a78" stroke-opacity="0.45" stroke-width="4.2"/><line x1="697.83" y1="148.52" x2="700.24" y2="138.09" stroke="#f2ea1c" stroke-width="3.3"/><line x1="703.35" y1="152.6" x2="712.61" y2="147.25" stroke="#f2ea1c" stroke-width="3.3"/><line x1="704.31" y1="158.69" x2="714.78" y2="160.91" stroke="#f2ea1c" stroke-width="3.3"/><line x1="700.71" y1="164.03" x2="706.69" y2="172.9" stroke="#f2ea1c" stroke-width="3.3"/><line x1="693.97" y1="165.28" x2="691.56" y2="175.71" stroke="#f2ea1c" stroke-width="3.3"/><line x1="688.45" y1="161.2" x2="679.19" y2="166.55" stroke="#f2ea1c" stroke-width="3.3"/><line x1="687.56" y1="154.82" x2="677.17" y2="152.23" stroke="#f2ea1c" stroke-width="3.3"/><line x1="691.41" y1="149.57" x2="685.82" y2="140.44" stroke="#f2ea1c" stroke-width="3.3"/><circle cx="695.9" cy="156.9" r="9.6" fill="#f2ea1c" stroke="#f7a621" stroke-width="1.1"/></g><path d="M704.54 162.68C704.63 162.31 704.78 161.08 705.1 160.44C705.42 159.8 705.86 159.26 706.46 158.84C707.06 158.42 707.91 158.05 708.7 157.92C709.49 157.79 710.39 157.85 711.18 158.04C711.97 158.23 712.79 158.59 713.42 159.08C714.05 159.57 714.57 160.35 714.94 161C715.31 161.65 715.51 162.53 715.66 163C715.81 163.47 715.79 163.67 715.82 163.8L715.66 163.8C715.94 163.85 716.74 163.93 717.34 164.12C717.94 164.31 718.69 164.56 719.26 164.92C719.83 165.28 720.41 165.72 720.78 166.28C721.15 166.84 721.43 167.59 721.5 168.28C721.57 168.97 721.5 169.71 721.18 170.44C720.86 171.17 720.27 172.07 719.58 172.68C718.89 173.29 717.95 173.8 717.02 174.12C716.09 174.44 715.05 174.53 713.98 174.6C712.91 174.67 711.63 174.65 710.62 174.52C709.61 174.39 708.73 174.17 707.9 173.8C707.07 173.43 706.03 172.53 705.66 172.28L705.66 172.28C705.43 172.49 704.9 173.25 704.3 173.56C703.7 173.87 702.81 174.11 702.06 174.12C701.31 174.13 700.57 173.97 699.82 173.64C699.07 173.31 698.18 172.79 697.58 172.12C696.98 171.45 696.47 170.43 696.22 169.64C695.97 168.85 695.93 168.24 696.06 167.4C696.19 166.56 696.53 165.39 697.02 164.6C697.51 163.81 698.23 163.13 699.02 162.68C699.81 162.23 700.89 161.97 701.74 161.88C702.59 161.79 703.67 161.99 704.14 162.12C704.61 162.25 704.47 162.59 704.54 162.68Z" fill="#fbfbfb" stroke="#2458a8" stroke-width="2.3" stroke-linejoin="round"/><path d="M715.66 163.8C715.38 163.87 714.54 163.97 713.98 164.2C713.42 164.43 712.77 164.83 712.3 165.16C711.83 165.49 711.43 165.89 711.18 166.2C710.93 166.51 710.85 166.87 710.78 167M704.14 162.12C704.23 162.25 704.57 162.68 704.7 162.92C704.83 163.16 704.9 163.45 704.94 163.56" fill="none" stroke="#2458a8" stroke-width="2.3" stroke-linecap="round"/>
<text class="t" transform="translate(700.3 221) scale(1.0 1)" fill="#cc0000">16°</text>
<text class="t" transform="translate(700.3 249) scale(1.0 1)" fill="#1e90ff">7°</text>
<text class="d" x="778.55" y="107.4" fill="#000">čet</text>
<text class="d" x="778.65" y="128.8" fill="#000">06.11</text>
<path d="M767.92 154.65C767.29 154.6 765.65 154.29 764.09 154.37C762.54 154.45 760.15 154.51 758.6 155.12C757.04 155.73 755.72 156.77 754.77 158.04C753.82 159.31 753.08 161.18 752.9 162.74C752.72 164.31 753.01 166.05 753.69 167.45C754.36 168.84 755.57 170.21 756.93 171.12C758.28 172.03 760.2 172.66 761.84 172.91C763.47 173.16 765.93 172.67 766.75 172.62L772.05 168 L797.05 168 L800.92 170.08C801.28 169.47 802.59 167.81 803.08 166.41C803.57 165.02 803.91 163.2 803.87 161.71C803.82 160.22 803.51 158.96 802.79 157.47C802.07 155.98 800.82 153.99 799.54 152.77C798.27 151.55 796.68 150.7 795.13 150.13C793.57 149.57 791.71 149.38 790.22 149.38C788.73 149.38 786.86 150.01 786.19 150.13L786.19 150.13C786.04 149.84 785.99 149.13 785.31 148.35C784.62 147.56 783.42 146.1 782.07 145.43C780.71 144.75 778.79 144.33 777.16 144.3C775.52 144.27 773.6 144.61 772.25 145.24C770.89 145.87 769.77 146.98 769 148.06C768.24 149.15 767.81 150.64 767.63 151.73C767.45 152.83 767.88 154.16 767.92 154.65Z" fill="#d9d9d9" stroke="#2458a8" stroke-width="2.2" stroke-linejoin="round"/><path d="M767.63 151.73C767.68 152.22 767.71 153.82 767.92 154.65C768.14 155.48 768.43 156.09 768.91 156.72C769.38 157.35 770.46 158.13 770.77 158.41" fill="none" stroke="#2458a8" stroke-width="2.2"/><path d="M777.3 159.39C777.42 158.9 777.62 157.28 778.04 156.44C778.46 155.59 779.04 154.88 779.83 154.33C780.62 153.77 781.75 153.29 782.78 153.11C783.82 152.94 785.02 153.02 786.06 153.27C787.09 153.53 788.18 153.99 789.01 154.64C789.84 155.29 790.52 156.31 791.01 157.18C791.51 158.04 791.77 159.2 791.96 159.81C792.16 160.43 792.14 160.69 792.17 160.87L791.96 160.87C792.33 160.94 793.39 161.04 794.18 161.29C794.97 161.54 795.95 161.87 796.71 162.34C797.47 162.82 798.22 163.4 798.72 164.14C799.21 164.88 799.58 165.86 799.66 166.78C799.75 167.69 799.66 168.66 799.24 169.62C798.82 170.59 798.05 171.77 797.13 172.58C796.22 173.39 794.99 174.06 793.76 174.48C792.53 174.9 791.15 175.02 789.75 175.11C788.34 175.2 786.65 175.18 785.32 175C783.98 174.83 782.82 174.55 781.73 174.06C780.64 173.56 779.27 172.38 778.78 172.05L778.78 172.05C778.48 172.33 777.77 173.33 776.98 173.74C776.19 174.14 775.01 174.46 774.03 174.48C773.04 174.49 772.06 174.28 771.07 173.84C770.09 173.4 768.91 172.72 768.12 171.84C767.33 170.96 766.66 169.61 766.33 168.57C765.99 167.53 765.94 166.72 766.12 165.62C766.29 164.51 766.73 162.96 767.38 161.92C768.03 160.89 768.98 159.99 770.02 159.39C771.06 158.79 772.48 158.46 773.61 158.34C774.73 158.21 776.16 158.48 776.77 158.65C777.39 158.83 777.21 159.27 777.3 159.39Z" fill="#fbfbfb" stroke="#2458a8" stroke-width="2.3" stroke-linejoin="round"/><path d="M791.96 160.87C791.59 160.96 790.49 161.1 789.75 161.4C789.01 161.69 788.15 162.22 787.53 162.66C786.92 163.1 786.39 163.63 786.06 164.03C785.72 164.44 785.62 164.91 785.53 165.09M776.77 158.65C776.89 158.83 777.33 159.39 777.51 159.71C777.69 160.02 777.77 160.41 777.83 160.55" fill="none" stroke="#2458a8" stroke-width="2.3" stroke-linecap="round"/>
<text class="t" transform="translate(779.15 221) scale(1.0 1)" fill="#cc0000">15°</text>
<text class="t" transform="translate(779.15 249) scale(1.0 1)" fill="#1e90ff">8°</text>
<text class="d" x="857.4" y="107.4" fill="#000">pet</text>
<text class="d" x="857.5" y="128.8" fill="#000">07.11</text>
<g><line x1="864.38" y1="148.62" x2="866.88" y2="137.8" stroke="#9a9a78" stroke-opacity="0.45" stroke-width="4.2"/><line x1="869.9" y1="152.7" x2="879.51" y2="147.15" stroke="#9a9a78" stroke-opacity="0.45" stroke-width="4.2"/><line x1="870.86" y1="158.79" x2="881.72" y2="161.1" stroke="#9a9a78" stroke-opacity="0.45" stroke-width="4.2"/><line x1="867.26" y1="164.13" x2="873.47" y2="173.33" stroke="#9a9a78" stroke-opacity="0.45" stroke-width="4.2"/><line x1="860.52" y1="165.38" x2="858.02" y2="176.2" stroke="#9a9a78" stroke-opacity="0.45" stroke-width="4.2"/><line x1="855" y1="161.3" x2="845.39" y2="166.85" stroke="#9a9a78" stroke-opacity="0.45" stroke-width="4.2"/><line x1="854.11" y1="154.92" x2="843.34" y2="152.23" stroke="#9a9a78" stroke-opacity="0.45" stroke-width="4.2"/><line x1="857.96" y1="149.67" x2="852.16" y2="140.2" stroke="#9a9a78" stroke-opacity="0.45" stroke-width="4.2"/><line x1="864.38" y1="148.62" x2="866.79" y2="138.19" stroke="#f2ea1c" stroke-width="3.3"/><line x1="869.9" y1="152.7" x2="879.16" y2="147.35" stroke="#f2ea1c" stroke-width="3.3"/><line x1="870.86" y1="158.79" x2="881.33" y2="161.01" stroke="#f2ea1c" stroke-width="3.3"/><line x1="867.26" y1="164.13" x2="873.24" y2="173" stroke="#f2ea1c" stroke-width="3.3"/><line x1="860.52" y1="165.38" x2="858.11" y2="175.81" stroke="#f2ea1c" stroke-width="3.3"/><line x1="855" y1="161.3" x2="845.74" y2="166.65" stroke="#f2ea1c" stroke-width="3.3"/><line x1="854.11" y1="154.92" x2="843.72" y2="152.33" stroke="#f2ea1c" stroke-width="3.3"/><line x1="857.96" y1="149.67" x2="852.37" y2="140.54" stroke="#f2ea1c" stroke-width="3.3"/><circle cx="862.45" cy="157" r="9.6" fill="#f2ea1c" stroke="#f7a621" stroke-width="1.1"/></g><path d="M845.2 163.1C845.32 162.63 845.5 161.1 845.9 160.3C846.3 159.5 846.85 158.83 847.6 158.3C848.35 157.78 849.42 157.32 850.4 157.15C851.38 156.98 852.52 157.06 853.5 157.3C854.48 157.54 855.52 157.98 856.3 158.6C857.08 159.22 857.73 160.18 858.2 161C858.67 161.82 858.92 162.92 859.1 163.5C859.28 164.08 859.27 164.33 859.3 164.5L859.1 164.5C859.45 164.57 860.45 164.67 861.2 164.9C861.95 165.13 862.88 165.45 863.6 165.9C864.32 166.35 865.03 166.9 865.5 167.6C865.97 168.3 866.32 169.23 866.4 170.1C866.48 170.97 866.4 171.88 866 172.8C865.6 173.72 864.87 174.83 864 175.6C863.13 176.37 861.97 177 860.8 177.4C859.63 177.8 858.33 177.92 857 178C855.67 178.08 854.07 178.07 852.8 177.9C851.53 177.73 850.43 177.47 849.4 177C848.37 176.53 847.07 175.42 846.6 175.1L846.6 175.1C846.32 175.37 845.65 176.32 844.9 176.7C844.15 177.08 843.03 177.38 842.1 177.4C841.17 177.42 840.23 177.22 839.3 176.8C838.37 176.38 837.25 175.73 836.5 174.9C835.75 174.07 835.12 172.78 834.8 171.8C834.48 170.82 834.43 170.05 834.6 169C834.77 167.95 835.18 166.48 835.8 165.5C836.42 164.52 837.32 163.67 838.3 163.1C839.28 162.53 840.63 162.22 841.7 162.1C842.77 161.98 844.12 162.23 844.7 162.4C845.28 162.57 845.12 162.98 845.2 163.1Z" fill="#d9d9d9" stroke="#2458a8" stroke-width="2.3" stroke-linejoin="round"/><path d="M859.1 164.5C858.75 164.58 857.7 164.72 857 165C856.3 165.28 855.48 165.78 854.9 166.2C854.32 166.62 853.82 167.12 853.5 167.5C853.18 167.88 853.08 168.33 853 168.5M844.7 162.4C844.82 162.57 845.23 163.1 845.4 163.4C845.57 163.7 845.65 164.07 845.7 164.2" fill="none" stroke="#2458a8" stroke-width="2.3" stroke-linecap="round"/>
<text class="t" transform="translate(858 221) scale(1.0 1)" fill="#cc0000">15°</text>
<text class="t" transform="translate(858 249) scale(1.0 1)" fill="#1e90ff">8°</text>
<text class="d" x="936.25" y="107.4" fill="#cc0000">sob</text>
<text class="d" x="936.35" y="128.8" fill="#cc0000">08.11</text>
<g><line x1="934.38" y1="148.52" x2="936.88" y2="137.7" stroke="#9a9a78" stroke-opacity="0.45" stroke-width="4.2"/><line x1="939.9" y1="152.6" x2="949.51" y2="147.05" stroke="#9a9a78" stroke-opacity="0.45" stroke-width="4.2"/><line x1="940.86" y1="158.69" x2="951.72" y2="161" stroke="#9a9a78" stroke-opacity="0.45" stroke-width="4.2"/><line x1="937.26" y1="164.03" x2="943.47" y2="173.23" stroke="#9a9a78" stroke-opacity="0.45" stroke-width="4.2"/><line x1="930.52" y1="165.28" x2="928.02" y2="176.1" stroke="#9a9a78" stroke-opacity="0.45" stroke-width="4.2"/><line x1="925" y1="161.2" x2="915.39" y2="166.75" stroke="#9a9a78" stroke-opacity="0.45" stroke-width="4.2"/><line x1="924.11" y1="154.82" x2="913.34" y2="152.13" stroke="#9a9a78" stroke-opacity="0.45" stroke-width="4.2"/><line x1="927.96" y1="149.57" x2="922.16" y2="140.1" stroke="#9a9a78" stroke-opacity="0.45" stroke-width="4.2"/><line x1="934.38" y1="148.52" x2="936.79" y2="138.09" stroke="#f2ea1c" stroke-width="3.3"/><line x1="939.9" y1="152.6" x2="949.16" y2="147.25" stroke="#f2ea1c" stroke-width="3.3"/><line x1="940.86" y1="158.69" x2="951.33" y2="160.91" stroke="#f2ea1c" stroke-width="3.3"/><line x1="937.26" y1="164.03" x2="943.24" y2="172.9" stroke="#f2ea1c" stroke-width="3.3"/><line x1="930.52" y1="165.28" x2="928.11" y2="175.71" stroke="#f2ea1c" stroke-width="3.3"/><line x1="925" y1="161.2" x2="915.74" y2="166.55" stroke="#f2ea1c" stroke-width="3.3"/><line x1="924.11" y1="154.82" x2="913.72" y2="152.23" stroke="#f2ea1c" stroke-width="3.3"/><line x1="927.96" y1="149.57" x2="922.37" y2="140.44" stroke="#f2ea1c" stroke-width="3.3"/><circle cx="932.45" cy="156.9" r="9.6" fill="#f2ea1c" stroke="#f7a621" stroke-width="1.1"/></g><path d="M941.09 162.68C941.18 162.31 941.33 161.08 941.65 160.44C941.97 159.8 942.41 159.26 943.01 158.84C943.61 158.42 944.46 158.05 945.25 157.92C946.04 157.79 946.94 157.85 947.73 158.04C948.52 158.23 949.34 158.59 949.97 159.08C950.6 159.57 951.12 160.35 951.49 161C951.86 161.65 952.06 162.53 952.21 163C952.36 163.47 952.34 163.67 952.37 163.8L952.21 163.8C952.49 163.85 953.29 163.93 953.89 164.12C954.49 164.31 955.24 164.56 955.81 164.92C956.38 165.28 956.96 165.72 957.33 166.28C957.7 166.84 957.98 167.59 958.05 168.28C958.12 168.97 958.05 169.71 957.73 170.44C957.41 171.17 956.82 172.07 956.13 172.68C955.44 173.29 954.5 173.8 953.57 174.12C952.64 174.44 951.6 174.53 950.53 174.6C949.46 174.67 948.18 174.65 947.17 174.52C946.16 174.39 945.28 174.17 944.45 173.8C943.62 173.43 942.58 172.53 942.21 172.28L942.21 172.28C941.98 172.49 941.45 173.25 940.85 173.56C940.25 173.87 939.36 174.11 938.61 174.12C937.86 174.13 937.12 173.97 936.37 173.64C935.62 173.31 934.73 172.79 934.13 172.12C933.53 171.45 933.02 170.43 932.77 169.64C932.52 168.85 932.48 168.24 932.61 167.4C932.74 166.56 933.08 165.39 933.57 164.6C934.06 163.81 934.78 163.13 935.57 162.68C936.36 162.23 937.44 161.97 938.29 161.88C939.14 161.79 940.22 161.99 940.69 162.12C941.16 162.25 941.02 162.59 941.09 162.68Z" fill="#fbfbfb" stroke="#2458a8" stroke-width="2.3" stroke-linejoin="round"/><path d="M952.21 163.8C951.93 163.87 951.09 163.97 950.53 164.2C949.97 164.43 949.32 164.83 948.85 165.16C948.38 165.49 947.98 165.89 947.73 166.2C947.48 166.51 947.4 166.87 947.33 167M940.69 162.12C940.78 162.25 941.12 162.68 941.25 162.92C941.38 163.16 941.45 163.45 941.49 163.56" fill="none" stroke="#2458a8" stroke-width="2.3" stroke-linecap="round"/>
<text class="t" transform="translate(936.85 221) scale(1.0 1)" fill="#cc0000">15°</text>
<text class="t" transform="translate(936.85 249) scale(1.0 1)" fill="#1e90ff">7°</text>
<text class="d" x="1015.1" y="107.4" fill="#cc0000">ned</text>
<text class="d" x="1015.2" y="128.8" fill="#cc0000">09.11</text>
<g><line x1="1017.23" y1="148.72" x2="1019.73" y2="137.9" stroke="#9a9a78" stroke-opacity="0.45" stroke-width="4.2"/><line x1="1022.75" y1="152.8" x2="1032.36" y2="147.25" stroke="#9a9a78" stroke-opacity="0.45" stroke-width="4.2"/><line x1="1023.71" y1="158.89" x2="1034.57" y2="161.2" stroke="#9a9a78" stroke-opacity="0.45" stroke-width="4.2"/><line x1="1020.11" y1="164.23" x2="1026.32" y2="173.43" stroke="#9a9a78" stroke-opacity="0.45" stroke-width="4.2"/><line x1="1013.37" y1="165.48" x2="1010.87" y2="176.3" stroke="#9a9a78" stroke-opacity="0.45" stroke-width="4.2"/><line x1="1007.85" y1="161.4" x2="998.24" y2="166.95" stroke="#9a9a78" stroke-opacity="0.45" stroke-width="4.2"/><line x1="1006.96" y1="155.02" x2="996.19" y2="152.33" stroke="#9a9a78" stroke-opacity="0.45" stroke-width="4.2"/><line x1="1010.81" y1="149.77" x2="1005.01" y2="140.3" stroke="#9a9a78" stroke-opacity="0.45" stroke-width="4.2"/><line x1="1017.23" y1="148.72" x2="1019.64" y2="138.29" stroke="#f2ea1c" stroke-width="3.3"/><line x1="1022.75" y1="152.8" x2="1032.01" y2="147.45" stroke="#f2ea1c" stroke-width="3.3"/><line x1="1023.71" y1="158.89" x2="1034.18" y2="161.11" stroke="#f2ea1c" stroke-width="3.3"/><line x1="1020.11" y1="164.23" x2="1026.09" y2="173.1" stroke="#f2ea1c" stroke-width="3.3"/><line x1="1013.37" y1="165.48" x2="1010.96" y2="175.91" stroke="#f2ea1c" stroke-width="3.3"/><line x1="1007.85" y1="161.4" x2="998.59" y2="166.75" stroke="#f2ea1c" stroke-width="3.3"/><line x1="1006.96" y1="155.02" x2="996.57" y2="152.43" stroke="#f2ea1c" stroke-width="3.3"/><line x1="1010.81" y1="149.77" x2="1005.22" y2="140.64" stroke="#f2ea1c" stroke-width="3.3"/><circle cx="1015.3" cy="157.1" r="9.6" fill="#f2ea1c" stroke="#f7a621" stroke-width="1.1"/></g>
<text class="t" transform="translate(1015.7 221) scale(1.0 1)" fill="#cc0000">15°</text>
<text class="t" transform="translate(1015.7 249) scale(1.0 1)" fill="#1e90ff">6°</text>
<text class="d" x="1093.95" y="107.4" fill="#000">pon</text>
<text class="d" x="1094.05" y="128.8" fill="#000">10.11</text>
<g><line x1="1100.93" y1="148.62" x2="1103.43" y2="137.8" stroke="#9a9a78" stroke-opacity="0.45" stroke-width="4.2"/><line x1="1106.45" y1="152.7" x2="1116.06" y2="147.15" stroke="#9a9a78" stroke-opacity="0.45" stroke-width="4.2"/><line x1="1107.41" y1="158.79" x2="1118.27" y2="161.1" stroke="#9a9a78" stroke-opacity="0.45" stroke-width="4.2"/><line x1="1103.81" y1="164.13" x2="1110.02" y2="173.33" stroke="#9a9a78" stroke-opacity="0.45" stroke-width="4.2"/><line x1="1097.07" y1="165.38" x2="1094.57" y2="176.2" stroke="#9a9a78" stroke-opacity="0.45" stroke-width="4.2"/><line x1="1091.55" y1="161.3" x2="1081.94" y2="166.85" stroke="#9a9a78" stroke-opacity="0.45" stroke-width="4.2"/><line x1="1090.66" y1="154.92" x2="1079.89" y2="152.23" stroke="#9a9a78" stroke-opacity="0.45" stroke-width="4.2"/><line x1="1094.51" y1="149.67" x2="1088.71" y2="140.2" stroke="#9a9a78" stroke-opacity="0.45" stroke-width="4.2"/><line x1="1100.93" y1="148.62" x2="1103.34" y2="138.19" stroke="#f2ea1c" stroke-width="3.3"/><line x1="1106.45" y1="152.7" x2="1115.71" y2="147.35" stroke="#f2ea1c" stroke-width="3.3"/><line x1="1107.41" y1="158.79" x2="1117.88" y2="161.01" stroke="#f2ea1c" stroke-width="3.3"/><line x1="1103.81" y1="164.13" x2="1109.79" y2="173" stroke="#f2ea1c" stroke-width="3.3"/><line x1="1097.07" y1="165.38" x2="1094.66" y2="175.81" stroke="#f2ea1c" stroke-width="3.3"/><line x1="1091.55" y1="161.3" x2="1082.29" y2="166.65" stroke="#f2ea1c" stroke-width="3.3"/><line x1="1090.66" y1="154.92" x2="1080.27" y2="152.33" stroke="#f2ea1c" stroke-width="3.3"/><line x1="1094.51" y1="149.67" x2="1088.92" y2="140.54" stroke="#f2ea1c" stroke-width="3.3"/><circle cx="1099" cy="157" r="9.6" fill="#f2ea1c" stroke="#f7a621" stroke-width="1.1"/></g><path d="M1081.75 163.1C1081.87 162.63 1082.05 161.1 1082.45 160.3C1082.85 159.5 1083.4 158.83 1084.15 158.3C1084.9 157.78 1085.97 157.32 1086.95 157.15C1087.93 156.98 1089.07 157.06 1090.05 157.3C1091.03 157.54 1092.07 157.98 1092.85 158.6C1093.63 159.22 1094.28 160.18 1094.75 161C1095.22 161.82 1095.47 162.92 1095.65 163.5C1095.83 164.08 1095.82 164.33 1095.85 164.5L1095.65 164.5C1096 164.57 1097 164.67 1097.75 164.9C1098.5 165.13 1099.43 165.45 1100.15 165.9C1100.87 166.35 1101.58 166.9 1102.05 167.6C1102.52 168.3 1102.87 169.23 1102.95 170.1C1103.03 170.97 1102.95 171.88 1102.55 172.8C1102.15 173.72 1101.42 174.83 1100.55 175.6C1099.68 176.37 1098.52 177 1097.35 177.4C1096.18 177.8 1094.88 177.92 1093.55 178C1092.22 178.08 1090.62 178.07 1089.35 177.9C1088.08 177.73 1086.98 177.47 1085.95 177C1084.92 176.53 1083.62 175.42 1083.15 175.1L1083.15 175.1C1082.87 175.37 1082.2 176.32 1081.45 176.7C1080.7 177.08 1079.58 177.38 1078.65 177.4C1077.72 177.42 1076.78 177.22 1075.85 176.8C1074.92 176.38 1073.8 175.73 1073.05 174.9C1072.3 174.07 1071.67 172.78 1071.35 171.8C1071.03 170.82 1070.98 170.05 1071.15 169C1071.32 167.95 1071.73 166.48 1072.35 165.5C1072.97 164.52 1073.87 163.67 1074.85 163.1C1075.83 162.53 1077.18 162.22 1078.25 162.1C1079.32 161.98 1080.67 162.23 1081.25 162.4C1081.83 162.57 1081.67 162.98 1081.75 163.1Z" fill="#d9d9d9" stroke="#2458a8" stroke-width="2.3" stroke-linejoin="round"/><path d="M1095.65 164.5C1095.3 164.58 1094.25 164.72 1093.55 165C1092.85 165.28 1092.03 165.78 1091.45 166.2C1090.87 166.62 1090.37 167.12 1090.05 167.5C1089.73 167.88 1089.63 168.33 1089.55 168.5M1081.25 162.4C1081.37 162.57 1081.78 163.1 1081.95 163.4C1082.12 163.7 1082.2 164.07 1082.25 164.2" fill="none" stroke="#2458a8" stroke-width="2.3" stroke-linecap="round"/>
<text class="t" transform="translate(1094.55 221) scale(1.0 1)" fill="#cc0000">14°</text>
<text class="t" transform="translate(1094.55 249) scale(1.0 1)" fill="#1e90ff">6°</text>
<g id="tempchart">
<clipPath id="tc"><rect x="69.5" y="417.5" width="1025" height="196.9"/></clipPath>
<g clip-path="url(#tc)">
<polygon points="69.5,453 148.35,453.5 227.2,449 306.05,445.6 384.9,436.8 463.75,427.9 542.6,445 621.45,442.1 700.3,439.8 779.15,448.3 858,448.3 936.85,445.6 1015.7,448.1 1094.55,451.3 1094.55,506.1 1015.7,494.25 936.85,496.7 858,486.7 779.15,486.25 700.3,483.1 621.45,486.7 542.6,490 463.75,469.9 384.9,454 306.05,466.6 227.2,467.9 148.35,474.3 69.5,465.7" fill="#32cd32" fill-opacity="0.4"/>
<polygon points="69.5,579.5 148.35,527.4 227.2,477.3 306.05,484.2 384.9,488.4 463.75,472.2 542.6,501.9 621.45,518.5 700.3,515.8 779.15,507.5 858,511.25 936.85,514.4 1015.7,520 1094.55,516 1094.55,570.5 1015.7,566.1 936.85,563.3 858,549.2 779.15,547.7 700.3,559.6 621.45,562.9 542.6,546.25 463.75,512.5 384.9,505.6 306.05,502.9 227.2,496.6 148.35,549 69.5,593" fill="#6495ed" fill-opacity="0.5"/>
<line x1="69.5" x2="1094.55" y1="552.9" y2="552.9" stroke="#7a7a7a" stroke-opacity="0.33" stroke-width="1.7"/>
<line x1="69.5" x2="1094.55" y1="511.3" y2="511.3" stroke="#7a7a7a" stroke-opacity="0.33" stroke-width="1.7"/>
<line x1="69.5" x2="1094.55" y1="469.8" y2="469.8" stroke="#7a7a7a" stroke-opacity="0.33" stroke-width="1.7"/>
<line x1="69.5" x2="1094.55" y1="429" y2="429" stroke="#7a7a7a" stroke-opacity="0.33" stroke-width="1.7"/>
<line x1="227.2" x2="227.2" y1="417.5" y2="614.4" stroke="#707070" stroke-opacity="0.33" stroke-width="1.9"/>
<line x1="384.9" x2="384.9" y1="417.5" y2="614.4" stroke="#707070" stroke-opacity="0.33" stroke-width="1.9"/>
<line x1="542.6" x2="542.6" y1="417.5" y2="614.4" stroke="#707070" stroke-opacity="0.33" stroke-width="1.9"/>
<line x1="700.3" x2="700.3" y1="417.5" y2="614.4" stroke="#707070" stroke-opacity="0.33" stroke-width="1.9"/>
<line x1="858" x2="858" y1="417.5" y2="614.4" stroke="#707070" stroke-opacity="0.33" stroke-width="1.9"/>
<line x1="1015.7" x2="1015.7" y1="417.5" y2="614.4" stroke="#707070" stroke-opacity="0.33" stroke-width="1.9"/>
<line x1="69.5" x2="1094.5" y1="595.3" y2="595.3" stroke="#222" stroke-width="1.2"/>
<line x1="69.5" x2="74.4" y1="611.62" y2="611.62" stroke="#333" stroke-width="1.1"/>
<line x1="69.5" x2="74.4" y1="603.46" y2="603.46" stroke="#333" stroke-width="1.1"/>
<line x1="69.5" x2="74.4" y1="586.82" y2="586.82" stroke="#333" stroke-width="1.1"/>
<line x1="69.5" x2="74.4" y1="578.34" y2="578.34" stroke="#333" stroke-width="1.1"/>
<line x1="69.5" x2="74.4" y1="569.86" y2="569.86" stroke="#333" stroke-width="1.1"/>
<line x1="69.5" x2="74.4" y1="561.38" y2="561.38" stroke="#333" stroke-width="1.1"/>
<line x1="69.5" x2="74.4" y1="544.58" y2="544.58" stroke="#333" stroke-width="1.1"/>
<line x1="69.5" x2="74.4" y1="536.26" y2="536.26" stroke="#333" stroke-width="1.1"/>
<line x1="69.5" x2="74.4" y1="527.94" y2="527.94" stroke="#333" stroke-width="1.1"/>
<line x1="69.5" x2="74.4" y1="519.62" y2="519.62" stroke="#333" stroke-width="1.1"/>
<line x1="69.5" x2="74.4" y1="503" y2="503" stroke="#333" stroke-width="1.1"/>
<line x1="69.5" x2="74.4" y1="494.7" y2="494.7" stroke="#333" stroke-width="1.1"/>
<line x1="69.5" x2="74.4" y1="486.4" y2="486.4" stroke="#333" stroke-width="1.1"/>
<line x1="69.5" x2="74.4" y1="478.1" y2="478.1" stroke="#333" stroke-width="1.1"/>
<line x1="69.5" x2="74.4" y1="461.64" y2="461.64" stroke="#333" stroke-width="1.1"/>
<line x1="69.5" x2="74.4" y1="453.48" y2="453.48" stroke="#333" stroke-width="1.1"/>
<line x1="69.5" x2="74.4" y1="445.32" y2="445.32" stroke="#333" stroke-width="1.1"/>
<line x1="69.5" x2="74.4" y1="437.16" y2="437.16" stroke="#333" stroke-width="1.1"/>
<line x1="69.5" x2="74.4" y1="420.8" y2="420.8" stroke="#333" stroke-width="1.1"/>
<polyline points="61.5,590.34 69.5,585.5 148.35,537.8 227.2,486.8 306.05,493.75 384.9,497.2 463.75,492.2 542.6,524.2 621.45,540.4 700.3,537.7 779.15,527.5 858,529.6 936.85,537.9 1015.7,543 1094.55,543.8 1102.55,543.88" fill="none" stroke="#1e90ff" stroke-width="5.3" stroke-linejoin="round"/>
<polyline points="61.5,458.87 69.5,459.3 148.35,463.5 227.2,458.55 306.05,455.6 384.9,445.05 463.75,447.9 542.6,467.5 621.45,464.4 700.3,461.7 779.15,467.5 858,467.5 936.85,471 1015.7,470.45 1094.55,478.8 1102.55,479.65" fill="none" stroke="#ff0000" stroke-width="5.3" stroke-linejoin="round"/>
</g>
<rect x="69.5" y="417.5" width="1025" height="196.9" fill="none" stroke="#1a1a1a" stroke-width="1.2"/>
<text class="yl" x="64.7" y="602.4">0</text>
<text class="yl" x="64.7" y="560">5</text>
<text class="yl" x="64.7" y="518.4">10</text>
<text class="yl" x="64.7" y="476.9">15</text>
<text class="yl" x="64.7" y="436.1">20</text>
<text x="749.3" y="484" style="font-family:'Liberation Sans',Arial,sans-serif;font-size:19.25px" fill="#0000ff" stroke="#0000ff" stroke-width="0.18">© vreme.us &amp; vreme.pro</text>
</g>
<g id="precchart">
<line x1="69.5" x2="1094.5" y1="832" y2="832" stroke="#808080" stroke-opacity="0.33" stroke-width="1.6"/>
<line x1="69.5" x2="1094.5" y1="766.8" y2="766.8" stroke="#808080" stroke-opacity="0.33" stroke-width="1.6"/>
<line x1="227.2" x2="227.2" y1="700.7" y2="897.2" stroke="#808080" stroke-opacity="0.3" stroke-width="1.9"/>
<line x1="384.9" x2="384.9" y1="700.7" y2="897.2" stroke="#808080" stroke-opacity="0.3" stroke-width="1.9"/>
<line x1="542.6" x2="542.6" y1="700.7" y2="897.2" stroke="#808080" stroke-opacity="0.3" stroke-width="1.9"/>
<line x1="700.3" x2="700.3" y1="700.7" y2="897.2" stroke="#808080" stroke-opacity="0.3" stroke-width="1.9"/>
<line x1="858" x2="858" y1="700.7" y2="897.2" stroke="#808080" stroke-opacity="0.3" stroke-width="1.9"/>
<line x1="1015.7" x2="1015.7" y1="700.7" y2="897.2" stroke="#808080" stroke-opacity="0.3" stroke-width="1.9"/>
<clipPath id="pc"><rect x="69.5" y="700.7" width="1025.6" height="197.3"/></clipPath>
<g clip-path="url(#pc)">
<rect x="122.2" y="896.09" width="51.7" height="1.11" fill="#0050ff"/>
<rect x="201.1" y="863.95" width="51.8" height="33.25" fill="#0050ff"/>
<rect x="278.9" y="873.92" width="53" height="23.28" fill="#0050ff"/>
<rect x="437" y="888.92" width="53" height="8.28" fill="#0050ff"/>
<rect x="595" y="876.99" width="52.1" height="20.21" fill="#0050ff"/>
</g>
<g clip-path="url(#pc)">
<line x1="59.5" x2="79.5" y1="897.2" y2="897.2" stroke="#808080" stroke-width="2"/>
<line x1="148.35" x2="148.35" y1="892.31" y2="901.11" stroke="#808080" stroke-width="3"/>
<line x1="138.35" x2="158.35" y1="901.11" y2="901.11" stroke="#808080" stroke-width="2"/>
<line x1="138.35" x2="158.35" y1="892.31" y2="892.31" stroke="#808080" stroke-width="3"/>
<line x1="227.2" x2="227.2" y1="794.51" y2="903.72" stroke="#808080" stroke-width="3"/>
<line x1="217.2" x2="237.2" y1="903.72" y2="903.72" stroke="#808080" stroke-width="2"/>
<line x1="217.2" x2="237.2" y1="794.51" y2="794.51" stroke="#808080" stroke-width="3"/>
<line x1="306.05" x2="306.05" y1="856.78" y2="892.31" stroke="#808080" stroke-width="3"/>
<line x1="296.05" x2="316.05" y1="892.31" y2="892.31" stroke="#808080" stroke-width="3"/>
<line x1="296.05" x2="316.05" y1="856.78" y2="856.78" stroke="#808080" stroke-width="3"/>
<line x1="374.9" x2="394.9" y1="897.2" y2="897.2" stroke="#808080" stroke-width="2"/>
<line x1="463.75" x2="463.75" y1="718.55" y2="903.72" stroke="#808080" stroke-width="3"/>
<line x1="453.75" x2="473.75" y1="903.72" y2="903.72" stroke="#808080" stroke-width="2"/>
<line x1="453.75" x2="473.75" y1="718.55" y2="718.55" stroke="#808080" stroke-width="3"/>
<line x1="532.6" x2="552.6" y1="897.2" y2="897.2" stroke="#808080" stroke-width="2"/>
<line x1="621.45" x2="621.45" y1="845.69" y2="903.72" stroke="#808080" stroke-width="3"/>
<line x1="611.45" x2="631.45" y1="903.72" y2="903.72" stroke="#808080" stroke-width="2"/>
<line x1="611.45" x2="631.45" y1="845.69" y2="845.69" stroke="#808080" stroke-width="3"/>
<line x1="690.3" x2="710.3" y1="897.2" y2="897.2" stroke="#808080" stroke-width="2"/>
<line x1="769.15" x2="789.15" y1="897.2" y2="897.2" stroke="#808080" stroke-width="2"/>
<line x1="848" x2="868" y1="897.2" y2="897.2" stroke="#808080" stroke-width="2"/>
<line x1="926.85" x2="946.85" y1="897.2" y2="897.2" stroke="#808080" stroke-width="2"/>
<line x1="1005.7" x2="1025.7" y1="897.2" y2="897.2" stroke="#808080" stroke-width="2"/>
<line x1="1084.55" x2="1104.55" y1="897.2" y2="897.2" stroke="#808080" stroke-width="2"/>
</g>
<rect x="69.5" y="700.7" width="1025" height="196.5" fill="none" stroke="#1a1a1a" stroke-width="1.2"/>
<text class="yl" x="66.1" y="893">0</text>
<text class="yl" x="64.6" y="838.8">10</text>
<text class="yl" x="64.6" y="773.6">20</text>
<text class="yl" x="64.6" y="708.8">30</text>
<text class="d2" x="69" y="693.3">tor</text>
<text class="p" transform="translate(69.5 926.6) scale(1.0 1)" fill="#5ad2e0">5%</text>
<text class="d2" x="147.85" y="693.3">sre</text>
<text class="p" transform="translate(148.35 926.6) scale(1.0 1)" fill="#379bd0">25%</text>
<text class="d2" x="226.7" y="693.3">čet</text>
<text class="p" transform="translate(227.2 926.6) scale(1.0 1)" fill="#195fb4">70%</text>
<text class="d2" x="305.55" y="693.3">pet</text>
<text class="p" transform="translate(306.05 926.6) scale(1.0 1)" fill="#379bd0">25%</text>
<text class="d2" x="384.4" y="693.3">sob</text>
<text class="p" transform="translate(384.9 926.6) scale(1.0 1)" fill="#379bd0">15%</text>
<text class="d2" x="463.25" y="693.3">ned</text>
<text class="p" transform="translate(463.75 926.6) scale(1.0 1)" fill="#195fb4">70%</text>
<text class="d2" x="542.1" y="693.3">pon</text>
<text class="p" transform="translate(542.6 926.6) scale(1.0 1)" fill="#195fb4">55%</text>
<text class="d2" x="620.95" y="693.3">tor</text>
<text class="p" transform="translate(621.45 926.6) scale(1.0 1)" fill="#379bd0">15%</text>
<text class="d2" x="699.8" y="693.3">sre</text>
<text class="p" transform="translate(700.3 926.6) scale(1.0 1)" fill="#379bd0">10%</text>
<text class="d2" x="778.65" y="693.3">čet</text>
<text class="p" transform="translate(779.15 926.6) scale(1.0 1)" fill="#379bd0">25%</text>
<text class="d2" x="857.5" y="693.3">pet</text>
<text class="p" transform="translate(858 926.6) scale(1.0 1)" fill="#379bd0">20%</text>
<text class="d2" x="936.35" y="693.3">sob</text>
<text class="p" transform="translate(936.85 926.6) scale(1.0 1)" fill="#379bd0">35%</text>
<text class="d2" x="1015.2" y="693.3">ned</text>
<text class="p" transform="translate(1015.7 926.6) scale(1.0 1)" fill="#379bd0">30%</text>
<text class="d2" x="1094.05" y="693.3">pon</text>
<text class="p" transform="translate(1094.55 926.6) scale(1.0 1)" fill="#379bd0">30%</text>
</g>
</svg></body></html>
